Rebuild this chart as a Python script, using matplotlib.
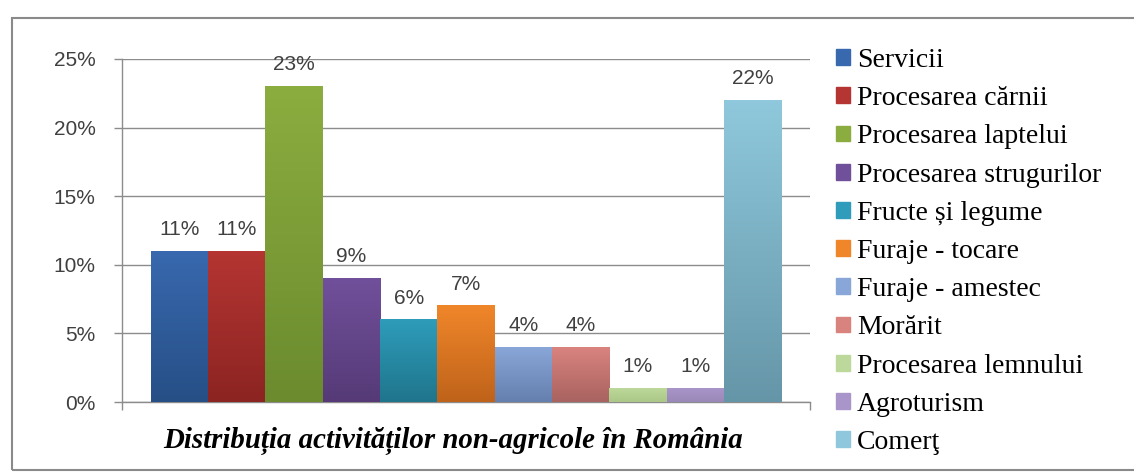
import matplotlib.pyplot as plt
import matplotlib
import numpy as np
from matplotlib.colors import LinearSegmentedColormap
from matplotlib.patches import Rectangle

matplotlib.rcParams.update(
    {
        'font.family': 'Liberation Sans',
        'font.size': 15
    }
)

categories = ['Servicii', 'Procesarea cărnii', 'Procesarea laptelui',
              'Procesarea strugurilor', 'Fructe și legume', 'Furaje - tocare',
              'Furaje - amestec', 'Morărit', 'Procesarea lemnului',
              'Agroturism', 'Comerţ']
values = [11, 11, 23, 9, 6, 7, 4, 4, 1, 1, 22]
top_colors = ['#3868AE', '#B43532', '#8BAD3F', '#71509B', '#2E9CBA', '#F0862A',
              '#89A6D8', '#D9837F', '#BCD89A', '#A995C9', '#8FC8DC']
bottom_colors = ['#264F86', '#8C2422', '#6B8B2E', '#553A77', '#1F758C', '#BF631A',
                 '#6580AE', '#A96360', '#ACC888', '#9A88B8', '#6596A8']
yticks = [0, 5, 10, 15, 20, 25]
title = 'Distribuția activităților non-agricole în România'

W, H = 1134, 476
fig = plt.figure(figsize=(W / 100, H / 100), dpi=100)
ax = fig.add_axes([122 / W, 1 - 402 / H, (810 - 122) / W, (402 - 59) / H])

grid_c = '#8c8c8c'
for i, (v, ct, cb) in enumerate(zip(values, top_colors, bottom_colors)):
    cmap = LinearSegmentedColormap.from_list('g%d' % i, [cb, ct])
    grad = np.linspace(0, 1, 100).reshape(-1, 1)
    ax.imshow(grad, extent=(i - 0.5, i + 0.5, 0, v), origin='lower',
              aspect='auto', cmap=cmap, zorder=3)
    ax.annotate('%d%%' % v, (i, v), xytext=(0, 15.5), textcoords='offset points',
                ha='center', va='center', color='#404040', fontsize=15, zorder=4)

ax.set_xlim(-1, 11)
ax.set_ylim(0, 25)
ax.set_yticks(yticks)
ax.set_yticklabels(['%d%%' % t for t in yticks], color='#404040')
ax.set_xticks([-1, 11])
ax.set_xticklabels([])
ax.tick_params(axis='y', direction='out', length=6, width=1, color=grid_c, pad=13)
ax.tick_params(axis='x', direction='out', length=6, width=1, color=grid_c)
ax.yaxis.grid(True, color=grid_c, linewidth=1)
ax.set_axisbelow(True)
for s in ['top', 'right']:
    ax.spines[s].set_visible(False)
for s in ['left', 'bottom']:
    ax.spines[s].set_color(grid_c)
    ax.spines[s].set_linewidth(1)

handles = [Rectangle((0, 0), 1, 1, color=c) for c in top_colors]
fig.legend(handles, categories, loc='upper left',
           bbox_to_anchor=(836 / W, 1 - 48 / H), frameon=False,
           prop={'family': 'Liberation Serif', 'size': 20},
           handlelength=0.5, handleheight=0.5, handletextpad=0.25,
           labelspacing=0.475, borderaxespad=0, borderpad=0)

fig.text(453 / W, 1 - 441 / H, title, ha='center', va='center',
         fontfamily='Liberation Serif', fontweight='bold', fontstyle='italic',
         fontsize=20.8)

fig.add_artist(Rectangle((12 / W, 1 - 470 / H), 1.2, (470 - 18) / H,
                         transform=fig.transFigure, fill=False,
                         edgecolor='#8a8a8a', linewidth=1.5))

fig.savefig('out.png', dpi=100)
